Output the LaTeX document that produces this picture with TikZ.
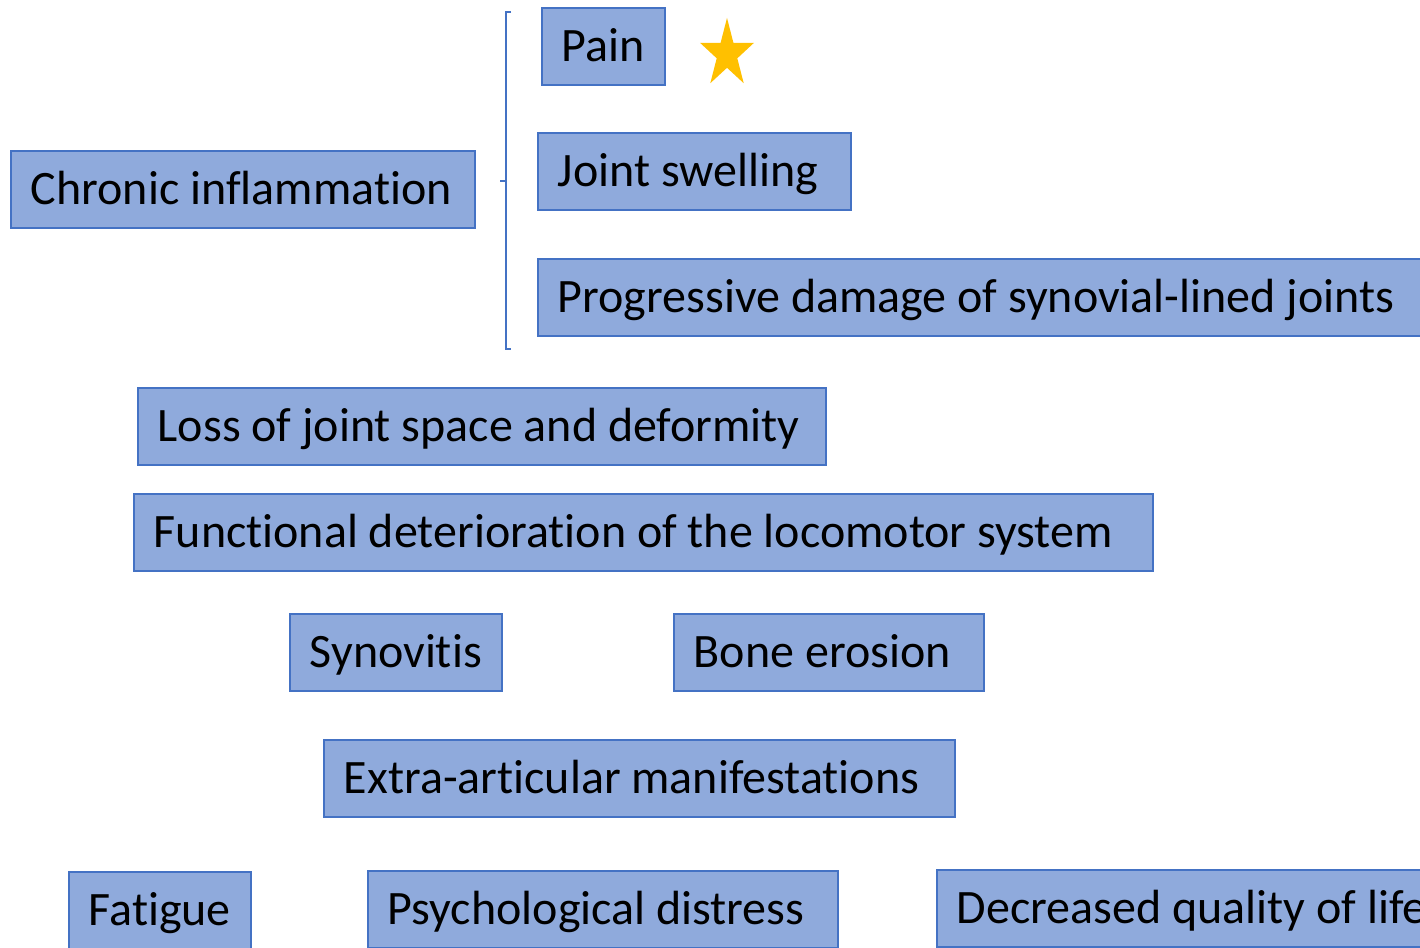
\documentclass[tikz,border=0pt]{standalone}
\usepackage{fontspec}
\setmainfont[Ligatures=NoCommon]{Carlito}
\definecolor{boxfill}{HTML}{8FAADC}
\definecolor{boxline}{HTML}{4472C4}
\definecolor{stargold}{HTML}{FFC000}
\newcommand\boxtext[2]{\makebox[\dimexpr#1pt-40pt\relax][l]{#2}}
\begin{document}
\begin{tikzpicture}[x=1pt,y=-1pt,
  box/.style={draw=boxline, line width=1.6pt, fill=boxfill, anchor=north west,
    inner xsep=20pt, inner ysep=0pt, minimum height=77pt,
    text height=31pt, text depth=0pt,
    font=\fontsize{48}{57}\selectfont},
  bracket/.style={draw=boxline, line width=1.4pt}]
\useasboundingbox (0,0) rectangle (1420,947);
\clip (0,0) rectangle (1420,947);
\fill[white] (0,0) rectangle (1420,947);
\node[box] (chronic) at (10,150) {\boxtext{464}{Chronic inflammation}};
\node[box] (pain) at (541,7) {\boxtext{123}{Pain}};
\node[box] (swelling) at (537,132) {\boxtext{313}{Joint swelling}};
\node[box] (progressive) at (537,258) {\boxtext{900}{Progressive damage of synovial-lined joints}};
\node[box] (loss) at (137,387) {\boxtext{688}{Loss of joint space and deformity}};
\node[box] (functional) at (133,493) {\boxtext{1019}{Functional deterioration of the locomotor system}};
\node[box] (synovitis) at (289,613) {\boxtext{212}{Synovitis}};
\node[box] (bone) at (673,613) {\boxtext{310}{Bone erosion}};
\node[box] (extra) at (323,739) {\boxtext{631}{Extra-articular manifestations}};
\node[box] (fatigue) at (68,871) {\boxtext{182}{Fatigue}};
\node[box] (psych) at (367,870) {\boxtext{470}{Psychological distress}};
\node[box] (quality) at (936,869) {\boxtext{500}{Decreased quality of life}};
% bracket
\coordinate (btop) at (511,12);
\coordinate (bbot) at (511,349);
\coordinate (bmid) at (500,181);
\draw[bracket] (btop) -- (506,12) -- (506,349) -- (bbot);
\draw[bracket] (bmid) -- (506,181);
% star
\fill[stargold] (727,17.9) -- (733.4,42.8) -- (754.0,42.8) -- (737.3,58.3) -- (743.7,83.2)
  -- (727,67.8) -- (710.3,83.2) -- (716.7,58.3) -- (700.0,42.8) -- (720.6,42.8) -- cycle;
\end{tikzpicture}
\end{document}
